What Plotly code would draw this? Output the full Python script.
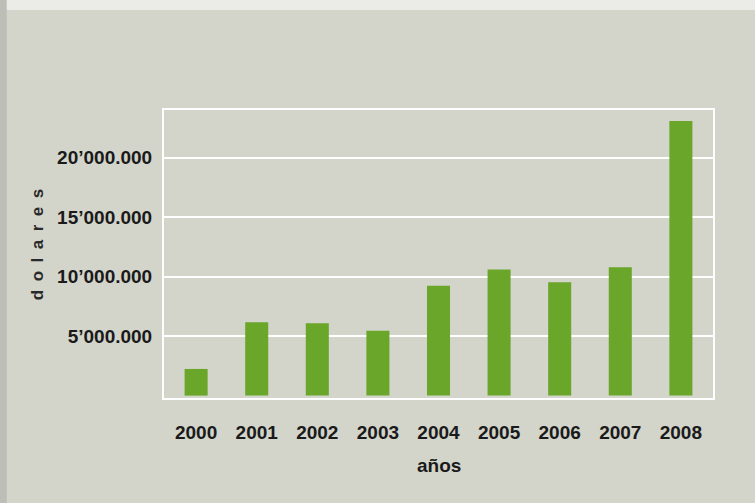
import plotly.graph_objects as go

years = ["2000", "2001", "2002", "2003", "2004", "2005", "2006", "2007", "2008"]
values = [2240000, 6160000, 6080000, 5460000, 9240000, 10590000, 9520000, 10780000, 23070000]
ytick_vals = [5000000, 10000000, 15000000, 20000000]
ytick_text = ["5\u2019000.000", "10\u2019000.000", "15\u2019000.000", "20\u2019000.000"]

BG = "#d3d4ca"
BAR = "#69a62a"
TXT = "#1a1a1a"
FONT = "Liberation Sans, Arial, sans-serif"

fig = go.Figure(go.Bar(x=years, y=values, marker=dict(color=BAR, line=dict(width=0)), width=0.38))

fig.update_layout(
    width=755, height=503,
    margin=dict(l=164, r=42, t=110, b=105),
    paper_bgcolor=BG, plot_bgcolor=BG,
    showlegend=False,
    font=dict(family=FONT, color=TXT),
    bargap=0.62,
)
fig.update_xaxes(
    type="category", range=[-0.53, 8.53],
    showgrid=False, showline=True, linecolor="white", linewidth=2, mirror=True,
    ticks="", ticklabelstandoff=16,
    tickfont=dict(family=FONT, size=19, color=TXT, weight="bold"),
)
fig.update_yaxes(
    range=[-200000, 24000000],
    tickvals=ytick_vals, ticktext=ytick_text,
    showgrid=True, gridcolor="white", gridwidth=2, zeroline=False,
    showline=True, linecolor="white", linewidth=2, mirror=True,
    ticks="", ticklabelstandoff=6,
    tickfont=dict(family=FONT, size=19, color=TXT, weight="bold"),
)
fig.add_annotation(text="años", xref="paper", yref="paper", x=0.5, y=-0.233,
                   xanchor="center", yanchor="middle", showarrow=False,
                   font=dict(family=FONT, size=19, color=TXT, weight="bold"))
fig.add_annotation(text="\u2002".join("dolares"),
                   xref="paper", yref="paper", x=-0.231, y=0.531, textangle=-90,
                   xanchor="center", yanchor="middle", showarrow=False,
                   font=dict(family=FONT, size=17, color="#2a2a2a", weight="bold"))
# scan edges
fig.add_shape(type="rect", xref="paper", yref="paper", x0=-0.3, x1=1.08, y0=1.347, y1=1.4,
              fillcolor="#ebebe8", line=dict(width=0), layer="below")
fig.add_shape(type="rect", xref="paper", yref="paper", x0=-0.3, x1=-0.2865, y0=-0.4, y1=1.4,
              fillcolor="#bdbeb6", line=dict(width=0), layer="below")

fig.write_html("out.html", config={"displayModeBar": False},
               post_script="document.body.style.margin='0';")
